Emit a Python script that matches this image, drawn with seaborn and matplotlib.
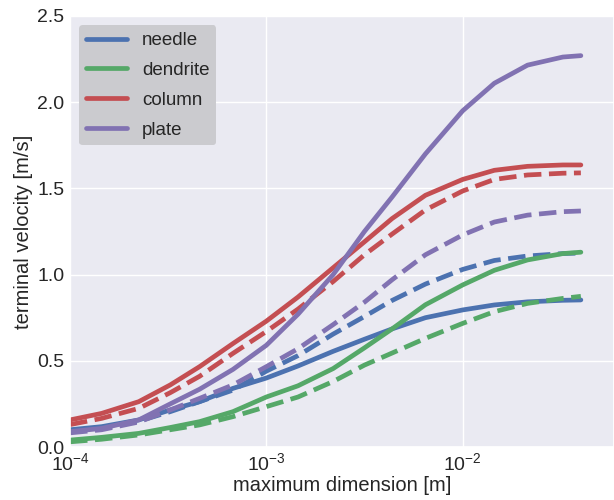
import matplotlib
matplotlib.use("Agg")
import matplotlib.pyplot as plt
import seaborn as sns
import pandas as pd

# maximum particle dimension [m]
diameter = [1e-4, 1.45e-4, 2.24e-4, 3.24e-4, 4.57e-4, 6.76e-4, 1e-3, 1.45e-3,
            2.19e-3, 3.16e-3, 4.37e-3, 6.46e-3, 1e-2, 1.45e-2, 2.14e-2, 3.24e-2, 4e-2]

habits = ["needle", "dendrite", "column", "plate"]
colors = ["#4C72B0", "#55A868", "#C44E52", "#8172B2"]

# terminal velocity [m/s], solid-line parameterisation
needle_solid = [0.10, 0.118, 0.157, 0.215, 0.263, 0.34, 0.40, 0.47, 0.555,
                0.625, 0.685, 0.75, 0.795, 0.824, 0.842, 0.851, 0.853]
dendrite_solid = [0.04, 0.056, 0.079, 0.113, 0.147, 0.205, 0.29, 0.355, 0.455,
                  0.575, 0.685, 0.825, 0.94, 1.025, 1.085, 1.122, 1.13]
column_solid = [0.157, 0.195, 0.263, 0.36, 0.466, 0.60, 0.73, 0.87, 1.04,
                1.19, 1.325, 1.46, 1.552, 1.605, 1.628, 1.636, 1.636]
plate_solid = [0.089, 0.108, 0.157, 0.25, 0.335, 0.45, 0.59, 0.77, 1.00,
               1.25, 1.45, 1.70, 1.95, 2.11, 2.215, 2.262, 2.27]

# terminal velocity [m/s], dashed-line parameterisation
needle_dashed = [0.09, 0.11, 0.15, 0.205, 0.263, 0.33, 0.44, 0.53, 0.655,
                 0.757, 0.85, 0.945, 1.03, 1.082, 1.108, 1.122, 1.125]
dendrite_dashed = [0.03, 0.045, 0.07, 0.10, 0.128, 0.176, 0.234, 0.29, 0.38,
                   0.475, 0.545, 0.63, 0.717, 0.785, 0.833, 0.862, 0.874]
column_dashed = [0.13, 0.166, 0.224, 0.315, 0.41, 0.543, 0.67, 0.80, 0.96,
                 1.115, 1.235, 1.375, 1.485, 1.552, 1.578, 1.588, 1.59]
plate_dashed = [0.082, 0.10, 0.145, 0.215, 0.282, 0.36, 0.466, 0.57, 0.71,
                0.84, 0.97, 1.115, 1.23, 1.305, 1.345, 1.365, 1.369]

solid = [needle_solid, dendrite_solid, column_solid, plate_solid]
dashed = [needle_dashed, dendrite_dashed, column_dashed, plate_dashed]

sns.set_theme(style="darkgrid")
plt.rcParams["font.family"] = ["Liberation Sans", "DejaVu Sans"]
plt.rcParams["xtick.major.size"] = 0
plt.rcParams["ytick.major.size"] = 0

fig = plt.figure(figsize=(6.14, 5.0), dpi=100)
ax = fig.add_axes([70 / 614, 0.106, 1 - 70 / 614, 0.862])

for name, c, vs, vd in zip(habits, colors, solid, dashed):
    df_s = pd.DataFrame({"D": diameter, "v": vs})
    df_d = pd.DataFrame({"D": diameter, "v": vd})
    sns.lineplot(data=df_s, x="D", y="v", ax=ax, color=c, lw=3.4,
                 label=name, solid_capstyle="round", solid_joinstyle="round")
    sns.lineplot(data=df_d, x="D", y="v", ax=ax, color=c, lw=3.4,
                 linestyle="--", label="_nolegend_")

ax.set_xscale("log")
ax.set_xlim(1e-4, 0.059)
ax.set_ylim(0, 2.5)
ax.set_yticks([0.0, 0.5, 1.0, 1.5, 2.0, 2.5])
ax.set_yticklabels(["0.0", "0.5", "1.0", "1.5", "2.0", "2.5"])
ax.minorticks_off()
ax.tick_params(axis="both", labelsize=14, pad=4, colors="#262626")
ax.set_xlabel("maximum dimension [m]", fontsize=14.5, color="#262626", labelpad=1)
ax.set_ylabel("terminal velocity [m/s]", fontsize=14.5, color="#262626", labelpad=3)

leg = ax.legend(loc="upper left", fontsize=13.5, frameon=True, handlelength=2.2,
                borderpad=0.35, labelspacing=0.68, handletextpad=0.8)
leg.get_frame().set_facecolor("#cbcbcf")
leg.get_frame().set_edgecolor("none")
leg.get_frame().set_alpha(1.0)
for line in leg.get_lines():
    line.set_linewidth(3.4)

fig.savefig("out.png", dpi=100)
